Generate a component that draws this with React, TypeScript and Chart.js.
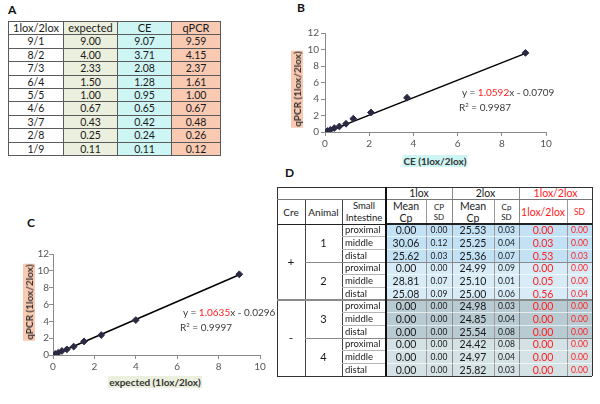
import React, { useEffect, useRef } from "react";
import { Chart, registerables } from "chart.js";
Chart.register(...registerables);

const FONT = "Lato, 'Liberation Sans', sans-serif";

// ---- Panel A data ----
const ratioLabels = ["9/1", "8/2", "7/3", "6/4", "5/5", "4/6", "3/7", "2/8", "1/9"];
const expected = [9.0, 4.0, 2.33, 1.5, 1.0, 0.67, 0.43, 0.25, 0.11];
const ce = [9.07, 3.71, 2.08, 1.28, 0.95, 0.65, 0.42, 0.24, 0.11];
const qpcr = [9.59, 4.15, 2.37, 1.61, 1.0, 0.67, 0.48, 0.26, 0.12];
const tableAHeaders = ["1lox/2lox", "expected", "CE", "qPCR"];

// ---- Fits ----
const fitB = { slope: 1.0592, intercept: -0.0709, r2: "0.9987", slopeTxt: "1.0592", icTxt: "0.0709" };
const fitC = { slope: 1.0635, intercept: -0.0296, r2: "0.9997", slopeTxt: "1.0635", icTxt: "0.0296" };
const xTicksMax = 10;
const yTicksMax = 12;

// ---- Panel D data ----
const creLabels = ["+", "-"];
const animalLabels = ["1", "2", "3", "4"];
const segmentLabels = ["proximal", "middle", "distal"];
const meanCp1lox = [0.0, 30.06, 25.62, 0.0, 28.81, 25.08, 0.0, 0.0, 0.0, 0.0, 0.0, 0.0];
const sdCp1lox = [0.0, 0.12, 0.03, 0.0, 0.07, 0.09, 0.0, 0.0, 0.0, 0.0, 0.0, 0.0];
const meanCp2lox = [25.53, 25.25, 25.36, 24.99, 25.1, 25.0, 24.98, 24.85, 25.54, 24.42, 24.97, 25.82];
const sdCp2lox = [0.03, 0.04, 0.07, 0.09, 0.01, 0.06, 0.03, 0.04, 0.08, 0.08, 0.04, 0.03];
const ratio = [0.0, 0.03, 0.53, 0.0, 0.05, 0.56, 0.0, 0.0, 0.0, 0.0, 0.0, 0.0];
const ratioSd = [0.0, 0.0, 0.03, 0.0, 0.0, 0.04, 0.0, 0.0, 0.0, 0.0, 0.0, 0.0];

const abs = (left: number, top: number, width: number, height: number): React.CSSProperties => ({
  position: "absolute",
  left,
  top,
  width,
  height,
  boxSizing: "border-box",
});

function ScatterFit(props: any) {
  const { left, top, width, height, padTop, padRight, yW, xH, xs, ys, fit, yPad } = props;
  const ref = useRef<HTMLCanvasElement>(null);
  useEffect(() => {
    const xmin = Math.min(...xs);
    const xmax = Math.max(...xs);
    const tickFont = { size: 10, family: FONT };
    const chart = new Chart(ref.current!, {
      type: "scatter",
      data: {
        datasets: [
          {
            type: "scatter",
            data: xs.map((x: number, i: number) => ({ x, y: ys[i] })),
            pointStyle: "rectRot",
            pointRadius: 3.4,
            backgroundColor: "#2a2a42",
            borderColor: "#2a2a42",
            order: 0,
          } as any,
          {
            type: "line",
            data: [
              { x: xmin, y: fit.slope * xmin + fit.intercept },
              { x: xmax, y: fit.slope * xmax + fit.intercept },
            ],
            borderColor: "#000",
            borderWidth: 1.5,
            pointRadius: 0,
            fill: false,
            order: 1,
          } as any,
        ],
      },
      options: {
        responsive: false,
        animation: false,
        devicePixelRatio: 1,
        layout: { padding: { top: padTop, right: padRight, left: 0, bottom: 0 } },
        plugins: { legend: { display: false }, tooltip: { enabled: false } },
        scales: {
          x: {
            type: "linear",
            min: 0,
            max: xTicksMax,
            ticks: { stepSize: 2, color: "#555", font: tickFont, padding: 2 },
            grid: { drawOnChartArea: false, drawTicks: true, tickLength: 4, color: "#8a8a8a" },
            border: { color: "#8a8a8a" },
            afterFit: (s: any) => {
              s.height = xH;
            },
          },
          y: {
            type: "linear",
            min: 0,
            max: yTicksMax,
            ticks: { stepSize: 2, color: "#555", font: tickFont, padding: yPad },
            grid: { drawOnChartArea: false, drawTicks: true, tickLength: 4, color: "#8a8a8a" },
            border: { color: "#8a8a8a" },
            afterFit: (s: any) => {
              s.width = yW;
            },
          },
        },
      } as any,
    });
    return () => chart.destroy();
  }, []);
  return <canvas ref={ref} width={width} height={height} style={{ position: "absolute", left, top, width, height }} />;
}

function Equation(props: any) {
  const { left, top, fit } = props;
  const st: React.CSSProperties = { position: "absolute", left, top, fontSize: 10, lineHeight: "12px", color: "#3a3a3a", whiteSpace: "nowrap" };
  return (
    <>
      <div style={st}>
        y = <span style={{ color: "#ff2020" }}>{fit.slopeTxt}</span>x - {fit.icTxt}
      </div>
      <div style={{ ...st, left: left - 3, top: top + 15 }}>
        R<sup style={{ fontSize: 6, verticalAlign: "top", lineHeight: "8px" }}>2</sup> = {fit.r2}
      </div>
    </>
  );
}

function AxisTitle(props: any) {
  const { cx, cy, text, bg, rotate } = props;
  return (
    <div
      style={{
        position: "absolute",
        left: cx,
        top: cy,
        transform: `translate(-50%, -50%)${rotate ? " rotate(-90deg)" : ""}`,
        background: bg,
        fontWeight: 700,
        fontSize: 10,
        lineHeight: "12px",
        padding: "0 1px",
        color: "#333",
        whiteSpace: "nowrap",
      }}
    >
      {text}
    </div>
  );
}

const colA = [8, 63, 117, 171, 220];
const colABg = ["#ffffff", "#ebefdd", "#cdf5f4", "#f9c9b1"];

function TableA() {
  const top = 21;
  const rowH = 13.4;
  const cells: any[] = [];
  const rows = [tableAHeaders, ...ratioLabels.map((r, i) => [r, expected[i].toFixed(2), ce[i].toFixed(2), qpcr[i].toFixed(2)])];
  rows.forEach((row, r) => {
    row.forEach((txt, c) => {
      const y0 = Math.round(top + r * rowH);
      const y1 = Math.round(top + (r + 1) * rowH);
      cells.push(
        <div
          key={`a${r}-${c}`}
          style={{
            ...abs(colA[c], y0, colA[c + 1] - colA[c] + 1, y1 - y0 + 1),
            background: colABg[c],
            border: "1px solid #5a5a5a",
            textAlign: "center",
            fontSize: r === 0 ? 11 : 10.5,
            lineHeight: `${y1 - y0 - 1}px`,
            color: "#1a1a1a",
          }}
        >
          {txt}
        </div>
      );
    });
  });
  return <>{cells}</>;
}

const colD = [277, 305, 342, 386, 426, 452, 494, 519, 567, 592];
const animalBg = ["#c3e1f5", "#d8ecf8", "#b8cad2", "#d4e1e5"];

function TableD() {
  const hTop = 187;
  const h1 = 199;
  const dTop = 224;
  const bottom = 376;
  const rowH = (bottom - dTop) / 12;
  const els: any[] = [];
  const txt = (key: string, x0: number, y0: number, x1: number, y1: number, content: any, st: React.CSSProperties = {}) =>
    els.push(
      <div
        key={key}
        style={{
          ...abs(x0, y0, x1 - x0, y1 - y0),
          display: "flex",
          alignItems: "center",
          justifyContent: "center",
          textAlign: "center",
          fontSize: 10.5,
          lineHeight: "12px",
          color: "#1a1a1a",
          whiteSpace: "nowrap",
          ...st,
        }}
      >
        {content}
      </div>
    );
  for (let i = 0; i < 12; i++) {
    const y0 = dTop + i * rowH;
    const g = Math.floor(i / 3);
    els.push(<div key={`bg${i}`} style={{ ...abs(colD[3], y0, colD[9] - colD[3], rowH + 0.5), background: animalBg[g] }} />);
  }
  txt("h1a", colD[3], hTop, colD[5], h1, "1lox");
  txt("h1b", colD[5], hTop, colD[7], h1, "2lox");
  txt("h1c", colD[7], hTop, colD[9], h1, "1lox/2lox", { color: "#ff2020" });
  txt("h2a", colD[0], h1, colD[1], dTop, "Cre", { fontSize: 10 });
  txt("h2b", colD[1], h1, colD[2], dTop, "Animal", { fontSize: 10 });
  txt("h2c", colD[2], h1, colD[3], dTop, <span>Small<br />Intestine</span>, { fontSize: 9.5 });
  txt("h2d", colD[3], h1, colD[4], dTop, <span>Mean<br />Cp</span>);
  txt("h2e", colD[4], h1, colD[5], dTop, <span>CP<br />SD</span>, { fontSize: 8, lineHeight: "10px" });
  txt("h2f", colD[5], h1, colD[6], dTop, <span>Mean<br />Cp</span>);
  txt("h2g", colD[6], h1, colD[7], dTop, <span>Cp<br />SD</span>, { fontSize: 8, lineHeight: "10px" });
  txt("h2h", colD[7], h1, colD[8], dTop, "1lox/2lox", { color: "#ff2020" });
  txt("h2i", colD[8], h1, colD[9], dTop, "SD", { color: "#ff2020", fontSize: 8.5 });
  creLabels.forEach((c, k) => txt(`cre${k}`, colD[0], dTop + k * 6 * rowH, colD[1], dTop + (k + 1) * 6 * rowH, c, { fontSize: 12 }));
  animalLabels.forEach((a, k) => txt(`an${k}`, colD[1], dTop + k * 3 * rowH, colD[2], dTop + (k + 1) * 3 * rowH, a, { fontSize: 11 }));
  for (let i = 0; i < 12; i++) {
    const y0 = dTop + i * rowH;
    const y1 = y0 + rowH;
    txt(`seg${i}`, colD[2], y0, colD[3], y1, segmentLabels[i % 3], { justifyContent: "flex-start", paddingLeft: 3, fontSize: 9.5 });
    txt(`m1${i}`, colD[3], y0, colD[4], y1, meanCp1lox[i].toFixed(2), { fontSize: 10.5 });
    txt(`s1${i}`, colD[4], y0, colD[5], y1, sdCp1lox[i].toFixed(2), { fontSize: 8.5 });
    txt(`m2${i}`, colD[5], y0, colD[6], y1, meanCp2lox[i].toFixed(2), { fontSize: 10.5 });
    txt(`s2${i}`, colD[6], y0, colD[7], y1, sdCp2lox[i].toFixed(2), { fontSize: 8.5 });
    txt(`r${i}`, colD[7], y0, colD[8], y1, ratio[i].toFixed(2), { fontSize: 10.5, color: "#ff2020" });
    txt(`rs${i}`, colD[8], y0, colD[9], y1, ratioSd[i].toFixed(2), { fontSize: 8.5, color: "#ff2020" });
  }
  const lines: [number, number, number, number, string][] = [];
  const V = (x: number, y0: number, y1: number, w: number, c: string) => lines.push([x - w / 2, y0, w, y1 - y0, c]);
  const H = (y: number, x0: number, x1: number, w: number, c: string) => lines.push([x0, y - w / 2, x1 - x0, w, c]);
  V(colD[0], hTop, bottom, 1, "#333");
  V(colD[9], hTop, bottom, 1, "#333");
  V(colD[1], h1, bottom, 1, "#444");
  V(colD[2], h1, bottom, 1, "#444");
  V(colD[5], hTop, bottom, 1, "#8a8a8a");
  V(colD[7], hTop, bottom, 1, "#8a8a8a");
  V(colD[4], h1, bottom, 1, "#9a9a9a");
  V(colD[6], h1, bottom, 1, "#9a9a9a");
  V(colD[8], h1, bottom, 1, "#9a9a9a");
  for (let i = 1; i < 12; i++) {
    if (i % 3 === 0) continue;
    const y = dTop + i * rowH;
    H(y, colD[2], colD[3], 1, "#b5b5b5");
    H(y, colD[3], colD[9], 1, "rgba(255,255,255,0.65)");
  }
  H(hTop, colD[0], colD[9], 1, "#333");
  H(h1, colD[0], colD[9], 1, "#777");
  H(dTop, colD[0], colD[3], 1, "#222");
  H(dTop, colD[3], colD[9], 2, "#222");
  H(dTop + 3 * rowH, colD[1], colD[9], 1, "#8a8a8a");
  H(dTop + 9 * rowH, colD[1], colD[9], 1, "#8a8a8a");
  H(dTop + 6 * rowH, colD[0], colD[9], 2, "#8a8a8a");
  H(bottom, colD[0], colD[9], 1, "#333");
  V(colD[3], hTop, bottom, 2, "#111");
  lines.forEach((l, k) =>
    els.push(<div key={`ln${k}`} style={{ position: "absolute", left: l[0], top: l[1], width: l[2], height: l[3], background: l[4] }} />)
  );
  return <>{els}</>;
}

function PanelLabel(props: any) {
  return (
    <div style={{ position: "absolute", left: props.x, top: props.y, fontWeight: 700, fontSize: 12, lineHeight: "12px", color: "#111" }}>
      {props.t}
    </div>
  );
}

export default function App() {
  useEffect(() => {
    document.body.style.margin = "0";
  }, []);
  return (
    <div style={{ position: "relative", width: 600, height: 404, background: "#fff", fontFamily: FONT, overflow: "hidden" }}>
      <PanelLabel t="A" x={8} y={4} />
      <PanelLabel t="B" x={297} y={2} />
      <PanelLabel t="C" x={27} y={217} />
      <PanelLabel t="D" x={285} y={167} />
      <TableA />
      <ScatterFit left={300} top={25} width={260} height={130} padTop={7} padRight={14} yW={25} xH={23} xs={ce} ys={qpcr} fit={fitB} yPad={2} />
      <AxisTitle cx={435} cy={161} text="CE (1lox/2lox)" bg="#cdf5f4" />
      <AxisTitle cx={297} cy={89} text="qPCR (1lox/2lox)" bg="#f9c9b1" rotate />
      <Equation left={462} top={86} fit={fitB} />
      <ScatterFit left={30} top={248} width={240} height={130} padTop={6} padRight={10} yW={23} xH={23} xs={expected} ys={qpcr} fit={fitC} yPad={0} />
      <AxisTitle cx={155} cy={382} text="expected (1lox/2lox)" bg="#ebefdd" />
      <AxisTitle cx={29} cy={302} text="qPCR (1lox/2lox)" bg="#f9c9b1" rotate />
      <Equation left={183} top={306} fit={fitC} />
      <TableD />
    </div>
  );
}
